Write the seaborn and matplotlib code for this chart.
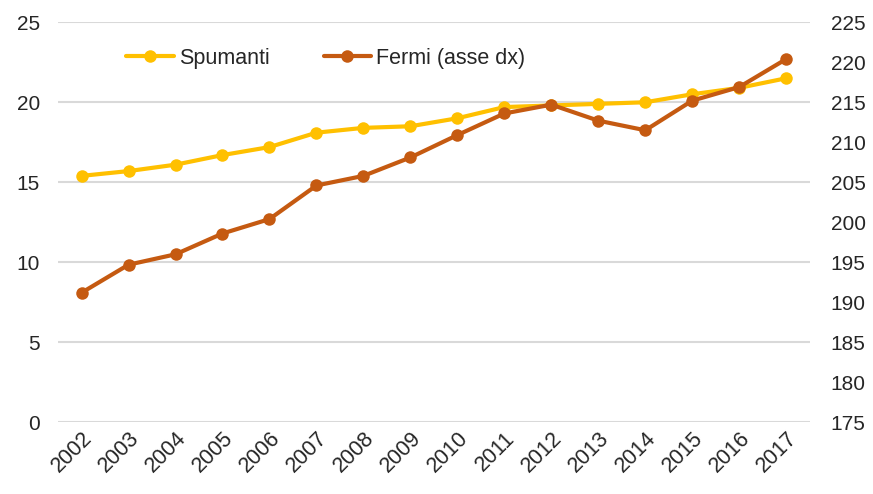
import numpy as np
import pandas as pd
import matplotlib
matplotlib.use("Agg")
import matplotlib.pyplot as plt
import seaborn as sns

# dati
anni = ["2002", "2003", "2004", "2005", "2006", "2007", "2008", "2009",
        "2010", "2011", "2012", "2013", "2014", "2015", "2016", "2017"]
spumanti = [15.4, 15.7, 16.1, 16.7, 17.2, 18.1, 18.4, 18.5,
            19.0, 19.7, 19.8, 19.9, 20.0, 20.5, 20.9, 21.5]
fermi = [191.2, 194.7, 196.0, 198.6, 200.4, 204.6, 205.8, 208.1,
         210.9, 213.6, 214.7, 212.7, 211.5, 215.2, 216.9, 220.4]

sns.set_style("white")
plt.rcParams['font.family'] = ['Liberation Sans', 'DejaVu Sans']

df = pd.DataFrame({"anno": anni, "Spumanti": spumanti, "Fermi": fermi})
df["x"] = np.arange(len(anni))

fig = plt.figure(figsize=(8.73, 4.94), dpi=100)
ax = fig.add_axes([0.0665, 0.145, 0.861, 0.81])
ax2 = ax.twinx()

giallo = "#FFC000"
arancio = "#C55A11"

sns.lineplot(data=df, x="x", y="Spumanti", ax=ax, color=giallo, lw=3,
             marker="o", markersize=9, markeredgewidth=0, label="Spumanti",
             legend=False)
sns.lineplot(data=df, x="x", y="Fermi", ax=ax2, color=arancio, lw=3,
             marker="o", markersize=9, markeredgewidth=0,
             label="Fermi (asse dx)", legend=False)

ax.set_ylim(0, 25)
ax2.set_ylim(175, 225)
ax.set_yticks(range(0, 26, 5))
ax2.set_yticks(range(175, 226, 5))
ax.set_xlim(-0.5, len(anni) - 0.5)
ax.set_xticks(df["x"])
ax.set_xticklabels(anni, rotation=45, ha="right", rotation_mode="anchor")

ax.grid(axis="y", color="#D9D9D9", lw=1.5)
ax.set_axisbelow(True)
for a in (ax, ax2):
    for s in a.spines.values():
        s.set_visible(False)
    a.set_xlabel("")
    a.set_ylabel("")
    a.tick_params(length=0, labelsize=15, colors="#262626")
ax.tick_params(axis="x", labelsize=15.5, pad=4)
ax.tick_params(axis="y", pad=13)
ax2.tick_params(axis="y", pad=15)

h1, l1 = ax.get_legend_handles_labels()
h2, l2 = ax2.get_legend_handles_labels()
leg = ax2.legend(h1 + h2, l1 + l2, ncol=2, frameon=False, fontsize=15.5,
                 loc="center left", bbox_to_anchor=(0.065, 0.91),
                 handlelength=2.2, handletextpad=0.25, columnspacing=2.5)
for t in leg.get_texts():
    t.set_color("#262626")

fig.savefig("out.png", dpi=100)
